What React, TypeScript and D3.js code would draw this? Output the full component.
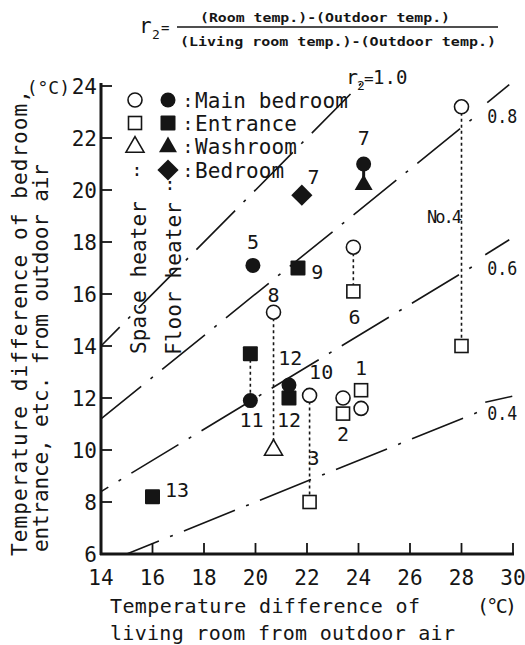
import React from 'react';
import * as d3 from 'd3';

// ---- data ----
const xTicks = [14, 16, 18, 20, 22, 24, 26, 28, 30];
const yTicks = [6, 8, 10, 12, 14, 16, 18, 20, 22, 24];

// ratio lines r2 = k  (y = k * x)
const ratioValues = [1.0, 0.8, 0.6, 0.4];
const ratioEndX = [24.1, 28.4, 28.4, 28.6];
const ratioLabelText = ['0.8', '0.6', '0.4'];
const ratioLabelX = [29.0, 29.0, 29.0];
const ratioLabelY = [22.9, 17.05, 11.45];

// Space heater (open symbols)
const mainBedroomSpace = [
  { no: '1', x: 24.1, y: 11.6 },
  { no: '2', x: 23.4, y: 12.0 },
  { no: '4', x: 28.0, y: 23.2 },
  { no: '6', x: 23.8, y: 17.8 },
  { no: '8', x: 20.7, y: 15.3 },
  { no: '10', x: 22.1, y: 12.1 },
];
const entranceSpace = [
  { no: '1', x: 24.1, y: 12.3 },
  { no: '2', x: 23.4, y: 11.4 },
  { no: '3', x: 22.1, y: 8.0 },
  { no: '4', x: 28.0, y: 14.0 },
  { no: '6', x: 23.8, y: 16.1 },
];
const washroomSpace = [{ no: '8', x: 20.7, y: 10.0 }];

// Floor heater (filled symbols)
const mainBedroomFloor = [
  { no: '5', x: 19.9, y: 17.1 },
  { no: '7', x: 24.2, y: 21.0 },
  { no: '11', x: 19.8, y: 11.9 },
  { no: '12', x: 21.3, y: 12.5 },
];
const entranceFloor = [
  { no: '9', x: 21.65, y: 17.0 },
  { no: '11', x: 19.8, y: 13.7 },
  { no: '12', x: 21.3, y: 12.0 },
  { no: '13', x: 16.0, y: 8.2 },
];
const washroomFloor = [{ no: '7', x: 24.2, y: 20.2 }];
const bedroomFloor = [{ no: '7', x: 21.8, y: 19.8 }];

// dotted connectors between rooms of the same house
const connectors = [
  { x: 28.0, y1: 23.2, y2: 14.0 },
  { x: 23.8, y1: 17.8, y2: 16.1 },
  { x: 20.7, y1: 15.3, y2: 10.0 },
  { x: 22.1, y1: 12.1, y2: 8.0 },
  { x: 19.8, y1: 13.7, y2: 11.9 },
  { x: 21.3, y1: 12.5, y2: 12.0 },
];
const solidStems = [{ x: 24.2, y1: 21.0, y2: 20.2 }];

// house number labels (data-unit positions)
const houseLabels = [
  { t: '1', x: 24.1, y: 13.15 },
  { t: '2', x: 23.4, y: 10.6 },
  { t: '3', x: 22.25, y: 9.7 },
  { t: '5', x: 19.9, y: 18.0 },
  { t: '6', x: 23.85, y: 15.1 },
  { t: '7', x: 22.25, y: 20.5 },
  { t: '7', x: 24.2, y: 22.0 },
  { t: '8', x: 20.7, y: 15.95 },
  { t: '9', x: 22.4, y: 16.85 },
  { t: '10', x: 22.55, y: 13.0 },
  { t: '11', x: 19.85, y: 11.15 },
  { t: '12', x: 21.35, y: 13.55 },
  { t: '12', x: 21.3, y: 11.15 },
  { t: '13', x: 16.95, y: 8.45 },
];
const no4Label = { t: 'No.4', x: 27.3, y: 19.0 };

const legendRooms = ['Main bedroom', 'Entrance', 'Washroom', 'Bedroom'];

const FONT = '"DejaVu Sans Mono", "Liberation Mono", monospace';
const INK = '#151515';

export default function App() {
  const x = d3.scaleLinear().domain([14, 30]).range([101, 513]);
  const y = d3.scaleLinear().domain([6, 24]).range([554, 86]);

  const openCircle = (px: number, py: number, key: string) => (
    <circle key={key} cx={px} cy={py} r={7} fill="#fff" stroke={INK} strokeWidth={1.6} />
  );
  const fillCircle = (px: number, py: number, key: string) => (
    <circle key={key} cx={px} cy={py} r={7.5} fill={INK} />
  );
  const openSquare = (px: number, py: number, key: string) => (
    <rect key={key} x={px - 6.5} y={py - 6.5} width={13} height={13} fill="#fff" stroke={INK} strokeWidth={1.6} />
  );
  const fillSquare = (px: number, py: number, key: string) => (
    <rect key={key} x={px - 7.5} y={py - 7.5} width={15} height={15} fill={INK} rx={1} />
  );
  const triPath = d3.symbol(d3.symbolTriangle, 140)() as string;
  const openTri = (px: number, py: number, key: string) => (
    <path key={key} d={triPath} transform={`translate(${px},${py})`} fill="#fff" stroke={INK} strokeWidth={1.6} />
  );
  const fillTri = (px: number, py: number, key: string) => (
    <path key={key} d={triPath} transform={`translate(${px},${py})`} fill={INK} />
  );
  const fillDiamond = (px: number, py: number, key: string) => (
    <rect key={key} x={-7.5} y={-7.5} width={15} height={15} fill={INK} transform={`translate(${px},${py}) rotate(45)`} />
  );

  const ratioLines = ratioValues.map((k, i) => {
    const x1 = Math.max(14, 6 / k);
    const x2 = ratioEndX[i];
    const line = d3.line<number>().x((v) => x(v)).y((v) => y(k * v));
    return (
      <path
        key={'r' + i}
        d={line([x2, x1]) as string}
        fill="none"
        stroke={INK}
        strokeWidth={1.6}
        strokeDasharray="3 12 55 12"
      />
    );
  });

  const slashes = [
    [0, -12, 22, -30],
    [-2, -12, 22, -27],
    [-2, -10, 25, -16],
  ];

  const legendY = [100, 123, 146, 170];

  return (
    <svg
      width={525}
      height={645}
      style={{ position: 'absolute', left: 0, top: 0, background: '#fff' }}
      fontFamily={FONT}
    >
      <rect x={0} y={0} width={525} height={645} fill="#fff" />

      {/* formula */}
      <g fill={INK}>
        <text x={139} y={33} fontSize={21}>r</text>
        <text x={152} y={39} fontSize={13}>2</text>
        <text x={161} y={33} fontSize={14}>=</text>
        <line x1={177} x2={498} y1={27} y2={27} stroke={INK} strokeWidth={1.6} />
        <text x={200} y={22} fontSize={13} fontWeight="bold" textLength={250} lengthAdjust="spacingAndGlyphs">
          (Room temp.)-(Outdoor temp.)
        </text>
        <text x={180} y={46} fontSize={13} fontWeight="bold" textLength={316} lengthAdjust="spacingAndGlyphs">
          (Living room temp.)-(Outdoor temp.)
        </text>
      </g>

      {/* ratio lines */}
      {ratioLines}
      <g fill={INK}>
        <text x={346} y={84} fontSize={20}>r</text>
        <text x={357} y={90} fontSize={13}>2</text>
        <text x={364} y={84} fontSize={16}>=</text>
        <text x={373} y={84} fontSize={19}>1.0</text>
      </g>
      {ratioLabelText.map((t, i) => {
        const lx = x(ratioLabelX[i]);
        const ly = y(ratioLabelY[i]);
        const s = slashes[i];
        return (
          <g key={'rl' + i}>
            <line x1={lx + s[0]} y1={ly + s[1]} x2={lx + s[2]} y2={ly + s[3]} stroke={INK} strokeWidth={1.6} />
            <text x={lx} y={ly + 8} fontSize={20} fill={INK} textLength={30} lengthAdjust="spacingAndGlyphs">{t}</text>
          </g>
        );
      })}

      {/* connectors */}
      {connectors.map((c, i) => (
        <line key={'c' + i} x1={x(c.x)} x2={x(c.x)} y1={y(c.y1)} y2={y(c.y2)} stroke={INK} strokeWidth={1.6} strokeDasharray="3 3" />
      ))}
      {solidStems.map((c, i) => (
        <line key={'s' + i} x1={x(c.x)} x2={x(c.x)} y1={y(c.y1)} y2={y(c.y2)} stroke={INK} strokeWidth={3} />
      ))}

      {/* marks */}
      {mainBedroomSpace.map((d, i) => openCircle(x(d.x), y(d.y), 'oc' + i))}
      {entranceSpace.map((d, i) => openSquare(x(d.x), y(d.y), 'os' + i))}
      {washroomSpace.map((d, i) => openTri(x(d.x), y(d.y), 'ot' + i))}
      {entranceFloor.map((d, i) => fillSquare(x(d.x), y(d.y), 'fs' + i))}
      {mainBedroomFloor.map((d, i) => fillCircle(x(d.x), y(d.y), 'fc' + i))}
      {washroomFloor.map((d, i) => fillTri(x(d.x), y(d.y), 'ft' + i))}
      {bedroomFloor.map((d, i) => fillDiamond(x(d.x), y(d.y), 'fd' + i))}

      {/* house labels */}
      {houseLabels.map((l, i) => (
        <text key={'hl' + i} x={x(l.x)} y={y(l.y) + 7} fontSize={20} textAnchor="middle" fill={INK}>
          {l.t}
        </text>
      ))}
      <rect x={x(no4Label.x) - 15} y={y(no4Label.y) - 9} width={28} height={18} fill="#fff" />
      <text x={x(no4Label.x)} y={y(no4Label.y) + 7} fontSize={17} textAnchor="middle" fill={INK} letterSpacing={-2}>
        {no4Label.t}
      </text>

      {/* legend */}
      {openCircle(135, legendY[0], 'lg0')}
      {fillCircle(168, legendY[0], 'lg1')}
      {openSquare(135, legendY[1], 'lg2')}
      {fillSquare(168, legendY[1], 'lg3')}
      {openTri(135, legendY[2] + 1, 'lg4')}
      {fillTri(168, legendY[2] + 1, 'lg5')}
      {fillDiamond(168, legendY[3], 'lg6')}
      {legendRooms.map((r, i) => (
        <g key={'lr' + i}>
          <text x={188} y={legendY[i] + 7} fontSize={18} textAnchor="middle" fill={INK}>:</text>
          <text x={195} y={legendY[i] + 8} fontSize={21} fill={INK} textLength={r.length * 12.75} lengthAdjust="spacing">
            {r}
          </text>
        </g>
      ))}
      <text x={137} y={legendY[3] + 6} fontSize={18} textAnchor="middle" fill={INK}>:</text>
      <text x={170} y={190} fontSize={18} textAnchor="middle" fill={INK}>:</text>
      <text transform="translate(146,354) rotate(-90)" fontSize={21} fill={INK} textLength={153} lengthAdjust="spacing">
        Space heater
      </text>
      <text transform="translate(181,355) rotate(-90)" fontSize={21} fill={INK} textLength={153} lengthAdjust="spacing">
        Floor heater
      </text>

      {/* axes */}
      <line x1={101} x2={101} y1={83} y2={555} stroke={INK} strokeWidth={3} />
      <line x1={100} x2={514} y1={554} y2={554} stroke={INK} strokeWidth={3} />
      {yTicks.map((t) => (
        <g key={'yt' + t}>
          {t > 6 && <line x1={101} x2={112} y1={y(t)} y2={y(t)} stroke={INK} strokeWidth={1.8} />}
          <text x={97} y={y(t) + 8} fontSize={21} textAnchor="end" fill={INK}>{t}</text>
        </g>
      ))}
      <text x={70} y={y(24) + 8} fontSize={18} textAnchor="end" fill={INK}>(°C)</text>
      {xTicks.map((t) => (
        <g key={'xt' + t}>
          {t > 14 && <line x1={x(t)} x2={x(t)} y1={554} y2={543} stroke={INK} strokeWidth={1.8} />}
          <text x={x(t)} y={585} fontSize={21} textAnchor="middle" fill={INK}>{t}</text>
        </g>
      ))}

      {/* axis titles */}
      <text x={110} y={613} fontSize={20} fill={INK} textLength={310} lengthAdjust="spacing">
        Temperature difference of
      </text>
      <text x={110} y={640} fontSize={20} fill={INK} textLength={345} lengthAdjust="spacing">
        living room from outdoor air
      </text>
      <text x={477} y={613} fontSize={20} fill={INK} textLength={40} lengthAdjust="spacing">(°C)</text>
      <text transform="translate(27,556) rotate(-90)" fontSize={21} fill={INK} textLength={466} lengthAdjust="spacing">
        Temperature difference of bedroom,
      </text>
      <text transform="translate(48,552) rotate(-90)" fontSize={21} fill={INK} textLength={388} lengthAdjust="spacing">
        entrance, etc. from outdoor air
      </text>
    </svg>
  );
}
